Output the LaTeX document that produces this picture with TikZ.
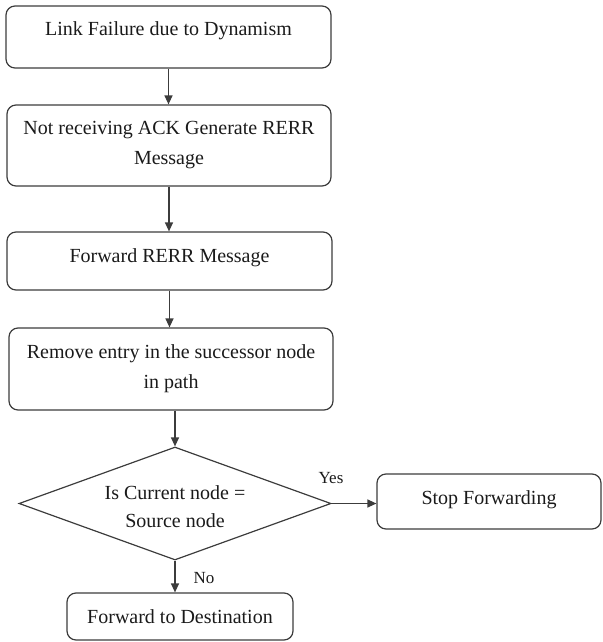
\documentclass[tikz,border=0pt]{standalone}
\usepackage{fontspec}
\setmainfont{Liberation Serif}
\usetikzlibrary{shapes.geometric,arrows.meta}
\definecolor{linegray}{HTML}{3C3C3C}
\definecolor{textblack}{HTML}{1A1A1A}
\begin{document}
\begin{tikzpicture}[x=1pt,y=-1pt,
  flowbox/.style={draw=linegray, line width=1.2pt, rounded corners=9pt,
    inner sep=0pt, align=center, text=textblack,
    font=\fontsize{20}{30}\selectfont},
  decision/.style={diamond, draw=linegray, line width=1.2pt, inner sep=0pt,
    minimum width=312pt, minimum height=113pt},
  plaintext/.style={inner sep=0pt, align=center, text=textblack,
    font=\fontsize{20}{28}\selectfont},
  lbl/.style={inner sep=0pt, text=textblack, font=\fontsize{17}{20}\selectfont},
  arr/.style={draw=linegray, line width=1.2pt,
    -{Triangle[length=9pt,width=8pt]}}
]
\useasboundingbox (0,0) rectangle (602,642);

% process boxes
\node[flowbox, minimum width=325pt, minimum height=62pt,
  text height=12pt, text depth=14pt] (fail) at (168.5,37)
  {Link Failure due to Dynamism};
\node[flowbox, minimum width=324pt, minimum height=81pt] (gen) at (169,145.5)
  {Not receiving ACK Generate RERR\\Message};
\node[flowbox, minimum width=325pt, minimum height=58pt,
  text height=13pt, text depth=11pt] (fwdrerr) at (169.5,261)
  {Forward RERR Message};
\node[flowbox, minimum width=324pt, minimum height=82pt] (remove) at (171,369)
  {Remove entry in the successor node\\in path};

% decision
\node[decision] (check) at (175,503.5) {};
\node[plaintext] (checktext) at (175,507) {Is Current node =\\Source node};

% outcomes
\node[flowbox, minimum width=224pt, minimum height=55pt,
  text height=13pt, text depth=8pt] (stop) at (489,501.5)
  {Stop Forwarding};
\node[flowbox, minimum width=226pt, minimum height=47pt] (dest) at (180,616.5)
  {Forward to Destination};

% connectors
\draw[arr] (fail.south) -- (fail.south |- gen.north);
\draw[arr] (gen.south) -- (gen.south |- fwdrerr.north);
\draw[arr] (fwdrerr.south) -- (fwdrerr.south |- remove.north);
\draw[arr] (check.north |- remove.south) -- (check.north);
\draw[arr] (check.east) -- (check.east -| stop.west);
\draw[arr] (check.south) -- (check.south |- dest.north);

% branch labels
\node[lbl] (yes) at (331,478) {Yes};
\node[lbl] (no) at (204,578) {No};
\end{tikzpicture}
\end{document}
